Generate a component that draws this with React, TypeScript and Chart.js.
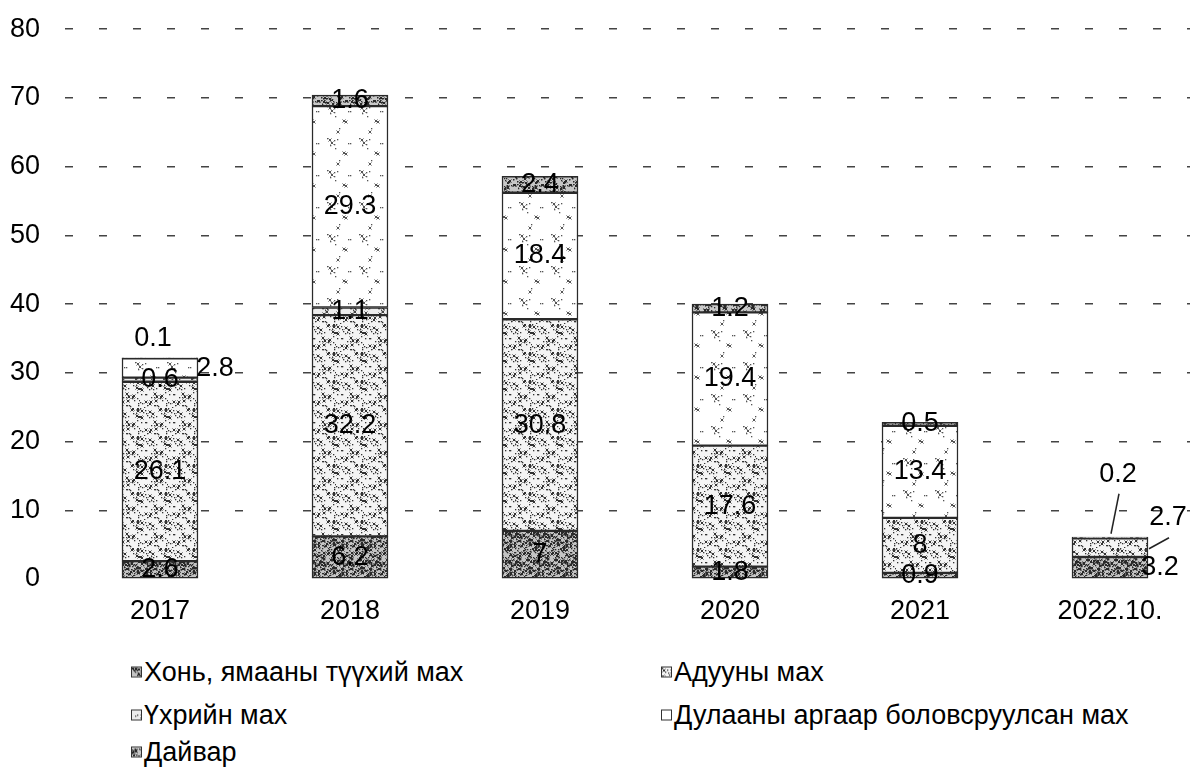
import React, { useEffect, useRef, useMemo } from "react";
import { Chart, registerables } from "chart.js";

Chart.register(...registerables);

const categories = ["2017", "2018", "2019", "2020", "2021", "2022.10."];
const seriesNames = [
  "Хонь, ямааны түүхий мах",
  "Адууны мах",
  "Үхрийн мах",
  "Дулааны аргаар боловсруулсан мах",
  "Дайвар",
];
const sheepGoat = [2.6, 6.2, 7, 1.8, 0.9, 3.2];
const horse = [26.1, 32.2, 30.8, 17.6, 8, 2.7];
const beef = [0.6, 1.1, null, null, null, null];
const heatProcessed = [2.8, 29.3, 18.4, 19.4, 13.4, null];
const offal = [0.1, 1.6, 2.4, 1.2, 0.5, 0.2];
const yTicks = [0, 10, 20, 30, 40, 50, 60, 70, 80];

const FONT = '"Liberation Sans", Arial, sans-serif';
const FS = 27;

// label placement tweaks (pixel offsets from the segment centre), keyed "dataset:index"
const placements: Record<string, { dx: number; dy: number; leader?: number[] }> = {
  "3:0": { dx: 55, dy: 1 },
  "4:0": { dx: -7, dy: -20 },
  "0:5": { dx: 50, dy: 0 },
  "1:5": { dx: 58, dy: -30, leader: [39, 1, 59, -10] },
  "4:5": { dx: 8, dy: -63, leader: [1, -4, 9, -44] },
};

function hash(n: number) {
  const s = Math.sin(n * 12.9898 + 78.233) * 43758.5453;
  return s - Math.floor(s);
}

function makeTile(base: string, dot: string, count: number, size: number, seed: number) {
  const c = document.createElement("canvas");
  c.width = size;
  c.height = size;
  const g = c.getContext("2d")!;
  g.fillStyle = base;
  g.fillRect(0, 0, size, size);
  g.strokeStyle = dot;
  g.fillStyle = dot;
  g.lineWidth = 1;
  for (let i = 0; i < count; i++) {
    const x = Math.floor(hash(seed + i * 2) * size);
    const y = Math.floor(hash(seed + i * 2 + 1) * size);
    if (i % 3 === 0) {
      g.beginPath();
      g.moveTo(x - 1.5, y - 1.5);
      g.lineTo(x + 1.5, y + 1.5);
      g.moveTo(x + 1.5, y - 1.5);
      g.lineTo(x - 1.5, y + 1.5);
      g.stroke();
    } else {
      g.fillRect(x, y, 1.3, 1.3);
    }
  }
  return c;
}

const tileSpecs = [
  { base: "#c4c4c4", dot: "#2a2a2a", count: 150, size: 28, seed: 1 },
  { base: "#f4f4f4", dot: "#333333", count: 55, size: 28, seed: 101 },
  { base: "#ececec", dot: "#444444", count: 40, size: 28, seed: 301 },
  { base: "#ffffff", dot: "#555555", count: 14, size: 32, seed: 501 },
  { base: "#c8c8c8", dot: "#2a2a2a", count: 110, size: 28, seed: 701 },
];

const valueLabelPlugin = {
  id: "valueLabels",
  afterDatasetsDraw(chart: any) {
    const ctx = chart.ctx;
    ctx.save();
    ctx.font = `${FS}px ${FONT}`;
    ctx.fillStyle = "#000";
    ctx.textAlign = "center";
    ctx.textBaseline = "middle";
    chart.data.datasets.forEach((ds: any, di: number) => {
      const meta = chart.getDatasetMeta(di);
      meta.data.forEach((bar: any, i: number) => {
        const v = ds.data[i];
        if (v == null) return;
        const { x, y, base } = bar.getProps(["x", "y", "base"], true);
        const cy = (y + base) / 2;
        const p = placements[`${di}:${i}`];
        let lx = x;
        let ly = cy;
        if (p) {
          lx += p.dx;
          ly += p.dy;
          if (p.leader) {
            ctx.strokeStyle = "#222";
            ctx.lineWidth = 1.5;
            ctx.beginPath();
            ctx.moveTo(x + p.leader[0], cy + p.leader[1]);
            ctx.lineTo(x + p.leader[2], cy + p.leader[3]);
            ctx.stroke();
          }
        }
        ctx.fillText(String(v), lx, ly);
      });
    });
    ctx.restore();
  },
};

export default function App() {
  const canvasRef = useRef<HTMLCanvasElement | null>(null);
  const tiles = useMemo(
    () => tileSpecs.map((s) => makeTile(s.base, s.dot, s.count, s.size, s.seed)),
    []
  );

  useEffect(() => {
    const canvas = canvasRef.current!;
    const ctx = canvas.getContext("2d")!;
    const patterns = tiles.map((t) => ctx.createPattern(t, "repeat"));
    const seriesData = [sheepGoat, horse, beef, heatProcessed, offal];
    const chart = new Chart(canvas, {
      type: "bar",
      data: {
        labels: categories,
        datasets: seriesData.map((d, i) => ({
          label: seriesNames[i],
          data: d as any,
          backgroundColor: patterns[i] as any,
          borderColor: "#2a2a2a",
          borderWidth: 1.5,
          borderSkipped: false,
          barThickness: 76,
        })),
      },
      options: {
        animation: false,
        responsive: false,
        layout: { padding: { top: 3, right: 10, left: 0, bottom: 0 } },
        plugins: {
          legend: { display: false },
          tooltip: { enabled: false },
        },
        scales: {
          x: {
            stacked: true,
            grid: { display: false, drawTicks: false },
            border: { display: false },
            ticks: { color: "#000", font: { family: FONT, size: FS }, padding: 16 },
            afterFit: (s: any) => {
              s.height = 51;
            },
          },
          y: {
            stacked: true,
            min: 0,
            max: 80,
            afterBuildTicks: (s: any) => {
              s.ticks = yTicks.map((v) => ({ value: v }));
            },
            grid: {
              drawTicks: false,
              color: (c: any) => (c.tick && c.tick.value === 0 ? "rgba(0,0,0,0)" : "#444"),
              lineWidth: 1.5,
            },
            border: { display: false, dash: [8, 26] },
            ticks: { color: "#000", font: { family: FONT, size: FS }, padding: 25 },
            afterFit: (s: any) => {
              s.width = 65;
            },
          },
        },
      },
      plugins: [valueLabelPlugin],
    });
    return () => chart.destroy();
  }, [tiles]);

  const legendPos = [
    { left: 131, top: 672 },
    { left: 661, top: 672 },
    { left: 131, top: 715 },
    { left: 661, top: 715 },
    { left: 131, top: 752 },
  ];

  return (
    <div
      style={{
        position: "fixed",
        left: 0,
        top: 0,
        width: 1190,
        height: 769,
        overflow: "hidden",
        background: "#fff",
      }}
    >
      <canvas
        ref={canvasRef}
        width={1215}
        height={642}
        style={{ position: "absolute", left: 0, top: -12, width: 1215, height: 642 }}
      />
      {seriesNames.map((name, i) => (
        <div
          key={name}
          style={{
            position: "absolute",
            left: legendPos[i].left,
            top: legendPos[i].top,
            transform: "translateY(-50%)",
            display: "flex",
            alignItems: "center",
            fontFamily: FONT,
            fontSize: FS,
            color: "#000",
            whiteSpace: "nowrap",
          }}
        >
          <span
            style={{
              display: "inline-block",
              width: 9,
              height: 9,
              border: "1px solid #333",
              marginRight: 2,
              backgroundImage: `url(${tiles[i].toDataURL()})`,
            }}
          />
          <span>{name}</span>
        </div>
      ))}
    </div>
  );
}
